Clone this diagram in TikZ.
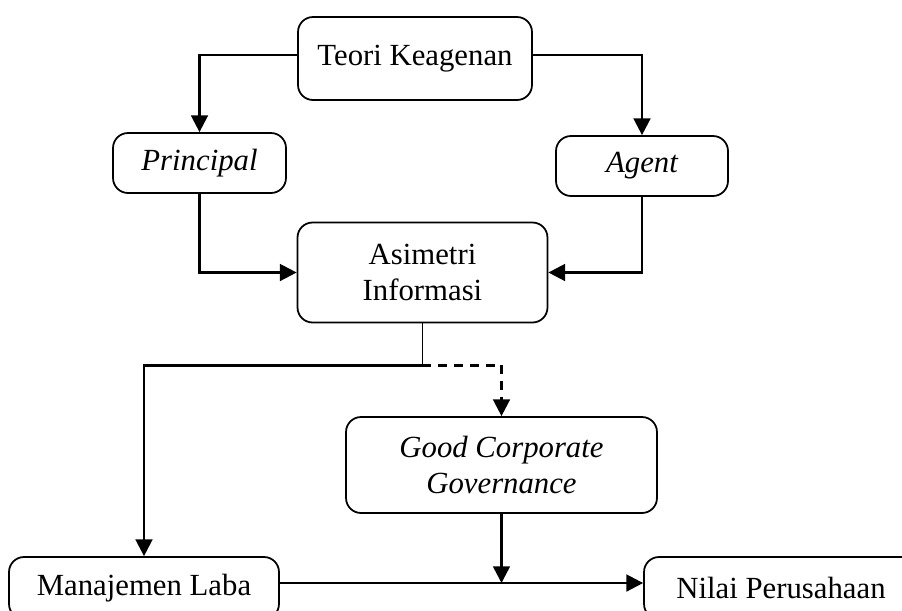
\documentclass[tikz,border=0pt]{standalone}
\usepackage{fontspec}
\setmainfont{Liberation Serif}
\usetikzlibrary{arrows.meta}

\begin{document}
\begin{tikzpicture}[x=0.02cm, y=-0.02cm,
    boxstyle/.style={rectangle, draw, line width=1pt, rounded corners=0.3cm, align=center, inner sep=0pt, font=\fontsize{17.5}{20}\selectfont},
    arrowstyle/.style={-{Triangle[width=9.5pt,length=9.5pt]}, line width=1.4pt},
    linestyle/.style={line width=1pt}
]
    \useasboundingbox (0,0) rectangle (902,610);
    \clip (0,0) rectangle (902,610);

    \node[boxstyle, minimum width=4.68cm, minimum height=1.66cm] (teori) at (415,58.5) {Teori Keagenan};
    \node[boxstyle, minimum width=3.46cm, minimum height=1.2cm] (principal) at (199.5,163) {\itshape Principal};
    \node[boxstyle, minimum width=3.44cm, minimum height=1.2cm] (agent) at (642,166) {\itshape Agent};
    \node[boxstyle, minimum width=5cm, minimum height=2cm] (asimetri) at (422.5,272.5) {Asimetri\\Informasi};
    \node[boxstyle, minimum width=6.22cm, minimum height=1.92cm] (gcg) at (501.5,465) {\itshape Good Corporate\\\itshape Governance};
    \node[boxstyle, minimum width=5.4cm, minimum height=1.24cm] (manajemen) at (144,588) {Manajemen Laba};
    \node[boxstyle, minimum width=5.48cm, minimum height=1.24cm] (nilai) at (781,588) {Nilai Perusahaan};

    \coordinate (split) at ([yshift=-0.84cm]asimetri.south);
    \coordinate (meet) at ([yshift=0.1cm]gcg.south |- manajemen.east);

    \draw[arrowstyle] ([yshift=0.07cm]teori.west) -| (principal.north);
    \draw[arrowstyle] ([yshift=0.07cm]teori.east) -| (agent.north);
    \draw[arrowstyle] (principal.south) |- (asimetri.west);
    \draw[arrowstyle] (agent.south) |- (asimetri.east);
    \draw[linestyle] (asimetri.south) -- (split);
    \draw[arrowstyle] (split) -| (manajemen.north);
    \draw[arrowstyle, dash pattern=on 5pt off 4pt] (split) -| (gcg.north);
    \draw[arrowstyle] (gcg.south) -- (meet);
    \draw[arrowstyle] ([yshift=0.1cm]manajemen.east) -- ([yshift=0.1cm]nilai.west);
\end{tikzpicture}
\end{document}
